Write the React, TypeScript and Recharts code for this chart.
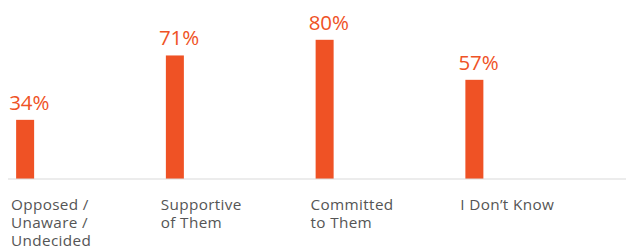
import React from "react";
import { BarChart, Bar, XAxis, YAxis, LabelList } from "recharts";

// survey answers, in percent
const categories = [
  "Opposed / Unaware / Undecided",
  "Supportive of Them",
  "Committed to Them",
  "I Don’t Know",
];
const tickLines = [
  ["Opposed /", "Unaware /", "Undecided"],
  ["Supportive", "of Them"],
  ["Committed", "to Them"],
  ["I Don’t Know"],
];
const shares = [34, 71, 80, 57];

const ORANGE = "#EF5225";
const GREY_TEXT = "#555555";
const FONT = "'Open Sans', Lato, sans-serif";

const W = 626;
const H = 250;
const XAXIS_H = 60;
const MARGIN = { top: 5, right: 0, bottom: 11, left: 8 };
const PAD_RIGHT = 19;
const AXIS_Y = H - MARGIN.bottom - XAXIS_H;
const BAND = (W - MARGIN.left - MARGIN.right - PAD_RIGHT) / categories.length;
const BAR_W = 18;
// bars sit near the left edge of their band, not centred
const SHIFT = 8 - (BAND - BAR_W) / 2;

const data = categories.map((name, i) => ({ name, value: shares[i] }));

const ShiftedBar = (props: any) => {
  const { x, y, width, height } = props;
  return <rect x={x + SHIFT} y={y} width={width} height={height} fill={ORANGE} />;
};

const ValueLabel = (props: any) => {
  const { x, y, value } = props;
  return (
    <text
      x={x + SHIFT - 7}
      y={y - 10}
      fill={ORANGE}
      fontSize={20.5}
      fontFamily={FONT}
      textAnchor="start"
    >
      {value}%
    </text>
  );
};

const CategoryTick = (props: any) => {
  const { x, payload } = props;
  const lines = tickLines[payload.index] || [];
  const left = x - BAND / 2 + 3;
  return (
    <text fill={GREY_TEXT} fontSize={15.3} fontFamily={FONT} textAnchor="start" letterSpacing={0.35}>
      {lines.map((line, i) => (
        <tspan key={i} x={left} y={AXIS_Y + 31 + i * 17.8}>
          {line}
        </tspan>
      ))}
    </text>
  );
};

export default function App() {
  return (
    <div style={{ position: "absolute", left: 0, top: 0, width: W, height: H, background: "#fff" }}>
      <BarChart width={W} height={H} data={data} margin={MARGIN} barSize={BAR_W}>
        <XAxis
          dataKey="name"
          height={XAXIS_H}
          padding={{ left: 0, right: PAD_RIGHT }}
          axisLine={{ stroke: "#D9D9D9", strokeWidth: 1 }}
          tickLine={false}
          tick={<CategoryTick />}
          interval={0}
        />
        <YAxis hide domain={[0, 100]} />
        <Bar dataKey="value" shape={<ShiftedBar />} isAnimationActive={false}>
          <LabelList dataKey="value" content={<ValueLabel />} />
        </Bar>
      </BarChart>
    </div>
  );
}
